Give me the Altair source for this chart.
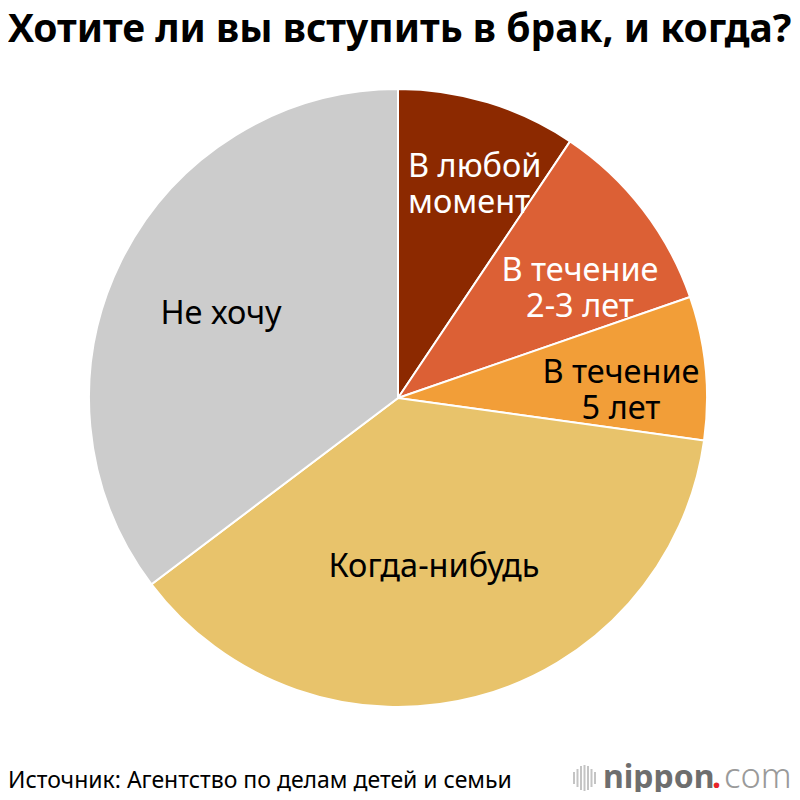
import pandas as pd
import altair as alt

# Доли ответов, по часовой стрелке от 12 часов
categories = ["В любой момент", "В течение 2-3 лет", "В течение 5 лет", "Когда-нибудь", "Не хочу"]
shares = [9.4, 10.3, 7.5, 37.5, 35.3]
colors = ["#8C2900", "#DC6035", "#F29E38", "#E8C36B", "#CCCCCC"]

source = pd.DataFrame({"category": categories, "share": shares, "rank": range(5)})

# Круг
pie = alt.Chart(source).mark_arc(outerRadius=309, stroke="white", strokeWidth=2).encode(
    theta=alt.Theta("share:Q", stack=True),
    order=alt.Order("rank:Q"),
    color=alt.Color("category:N", sort=categories, legend=None,
                    scale=alt.Scale(domain=categories, range=colors)),
    x=alt.value(390),
    y=alt.value(390),
)


def label(text, x, y, size=32.5, color="black", align="center", weight="normal", font="Noto Sans"):
    return alt.Chart(source.head(1)).mark_text(
        text=text, align=align, baseline="middle", fontSize=size, color=color,
        fontWeight=weight, font=font, lineBreak="\n", lineHeight=36,
    ).encode(x=alt.value(x), y=alt.value(y))


# Подписи секторов
labels = [
    label("В любой\nмомент", 400, 159, color="white", align="left"),
    label("В течение\n2-3 лет", 572, 263, color="white"),
    label("В течение\n5 лет", 613, 365),
    label("Когда-нибудь", 426, 559),
    label("Не хочу", 213, 306),
]

# Заголовок, источник и логотип
title = label("Хотите ли вы вступить в брак, и когда?", 0, 22, size=39, align="left", weight="bold")
note = label("Источник: Агентство по делам детей и семьи", 0, 773, size=23, align="left")
logo = [
    label("nippon", 595, 770, size=32, color="#6E6E6E", align="left", weight="bold"),
    label(".", 704, 770, size=32, color="#E8262A", align="left", weight="bold"),
    label("com", 716, 770, size=34.5, color="#9A9A9A", align="left", weight=300),
]

bar_offsets = [566, 569.5, 573, 576.5, 580, 583.5, 587]
bar_half = [6, 9, 12, 13, 12, 9, 6]
bars = [
    alt.Chart(source.head(1)).mark_rule(color="#C4C4C4", strokeWidth=2).encode(
        x=alt.value(x), y=alt.value(770 - h), y2=alt.value(770 + h)
    )
    for x, h in zip(bar_offsets, bar_half)
]

chart = alt.layer(pie, *labels, title, note, *logo, *bars).properties(
    width=784, height=784, padding=0, autosize=alt.AutoSizeParams(type="none")
).configure_view(stroke=None)

chart.save("out.html", embed_options={"renderer": "svg", "actions": False})
